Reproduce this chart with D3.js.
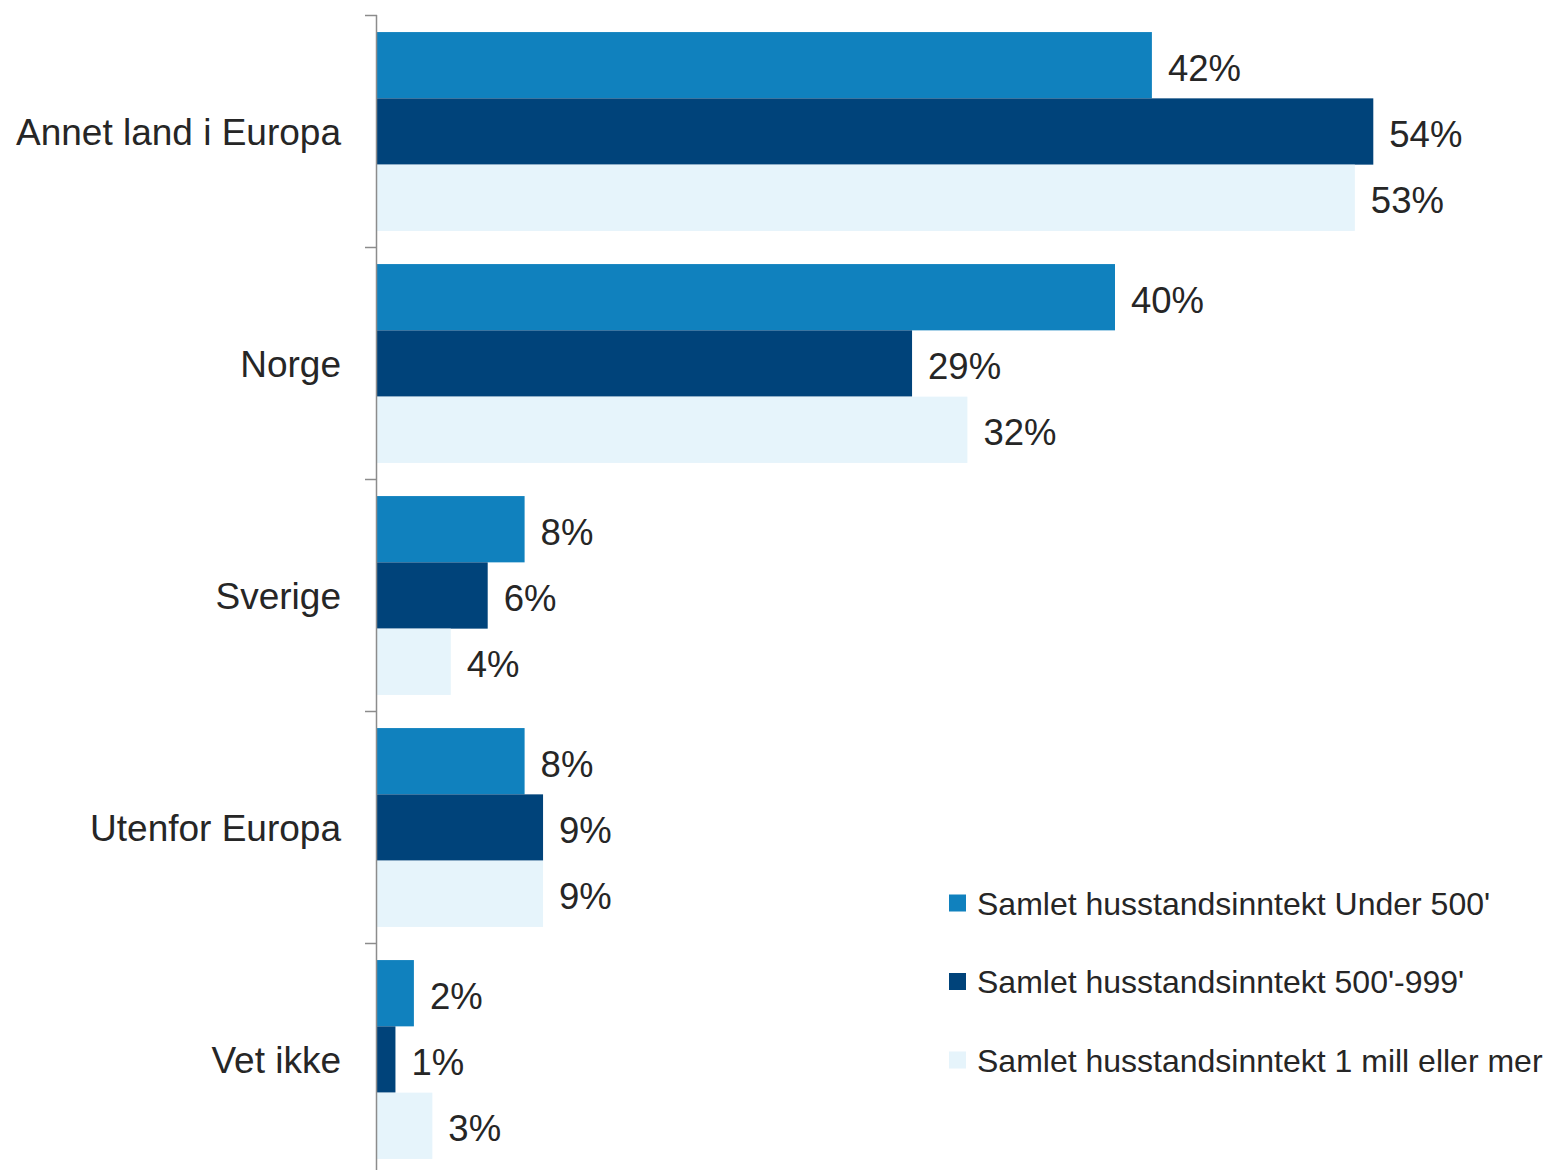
<!doctype html>
<html>
    <head>
        <meta charset="utf-8">
        <title>grouped bar chart</title>
        <script src="https://d3js.org/d3.v7.min.js"></script>
        <style type="text/css">
            body { margin:0; background:#fff; }
            text { font-family:"Liberation Sans", Arial, sans-serif; fill:#262626; }
        </style>
    </head>
    <body>
        <svg></svg>
        <script type="text/javascript">

            var w = 1550,
                h = 1170;

            var categories = ['Annet land i Europa', 'Norge', 'Sverige', 'Utenfor Europa', 'Vet ikke'];
            var seriesNames = [
                "Samlet husstandsinntekt Under 500'",
                "Samlet husstandsinntekt 500'-999'",
                "Samlet husstandsinntekt 1 mill eller mer"
            ];
            var under500 = [42, 40, 8, 8, 2];
            var mid500to999 = [54, 29, 6, 9, 1];
            var over1mill = [53, 32, 4, 9, 3];
            var colors = ['#1081BE', '#00437A', '#E6F4FB'];

            var seriesValues = [under500, mid500to999, over1mill];

            var yScale = d3.scaleBand()
                .domain(categories)
                .range([15.5, 1175.5])
                .padding(0);

            var subScale = d3.scaleBand()
                .domain(d3.range(seriesNames.length))
                .range([0, yScale.bandwidth()])
                .paddingInner(0)
                .paddingOuter(0.25);

            var xScale = d3.scaleLinear()
                .domain([0, 60])
                .range([377, 377 + 60 * 18.45]);

            var svg = d3.select('svg')
                .attr('width', w)
                .attr('height', h);

            var groups = svg.selectAll('g.cat')
                .data(categories)
                .enter()
                .append('g')
                .attr('class', 'cat')
                .attr('transform', function(d){
                    return 'translate(0,' + yScale(d) + ')';
                });

            groups.selectAll('rect')
                .data(function(d, ci){
                    return seriesValues.map(function(s, si){ return { si: si, v: s[ci] }; });
                })
                .enter()
                .append('rect')
                .attr('x', xScale(0))
                .attr('y', function(d){ return subScale(d.si); })
                .attr('width', function(d){ return xScale(d.v) - xScale(0); })
                .attr('height', subScale.bandwidth())
                .attr('fill', function(d){ return colors[d.si]; });

            groups.selectAll('text.val')
                .data(function(d, ci){
                    return seriesValues.map(function(s, si){ return { si: si, v: s[ci] }; });
                })
                .enter()
                .append('text')
                .attr('class', 'val')
                .attr('x', function(d){ return xScale(d.v) + 16; })
                .attr('y', function(d){ return subScale(d.si) + subScale.bandwidth() / 2; })
                .attr('dy', '0.42em')
                .style('font-size', '36.5px')
                .text(function(d){ return d.v + '%'; });

            // axis
            var yAxis = d3.axisLeft(yScale)
                .tickSize(0)
                .tickPadding(36);

            var axisG = svg.append('g')
                .attr('transform', 'translate(377,0)')
                .call(yAxis);
            axisG.select('.domain').remove();
            axisG.selectAll('text')
                .style('font-size', '37px')
                .style('font-family', '"Liberation Sans", Arial, sans-serif')
                .attr('fill', '#262626')
                .attr('dy', '0.36em');

            svg.append('line')
                .attr('x1', 376.5).attr('x2', 376.5)
                .attr('y1', 15).attr('y2', h)
                .attr('stroke', '#8c8c8c')
                .attr('stroke-width', 1.5);

            var bounds = categories.map(function(c){ return yScale(c); });
            svg.selectAll('line.tick')
                .data(bounds)
                .enter()
                .append('line')
                .attr('class', 'tick')
                .attr('x1', 365).attr('x2', 377)
                .attr('y1', function(d){ return d; })
                .attr('y2', function(d){ return d; })
                .attr('stroke', '#8c8c8c')
                .attr('stroke-width', 1.5);

            // legend
            var legend = svg.append('g')
                .attr('transform', 'translate(949,903)');

            legend.selectAll('rect')
                .data(seriesNames)
                .enter()
                .append('rect')
                .attr('x', 0)
                .attr('y', function(d, i){ return i * 78.5 - 8.5; })
                .attr('width', 17)
                .attr('height', 17)
                .attr('fill', function(d, i){ return colors[i]; });

            legend.selectAll('text')
                .data(seriesNames)
                .enter()
                .append('text')
                .attr('x', 28)
                .attr('y', function(d, i){ return i * 78.5; })
                .attr('dy', '0.36em')
                .style('font-size', '32px')
                .text(function(d){ return d; });
        </script>
    </body>
</html>
